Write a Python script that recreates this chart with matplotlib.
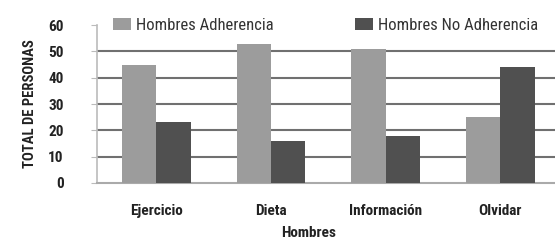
import numpy as np
import matplotlib.pyplot as plt
from matplotlib import font_manager

# datos
categorias = ['Ejercicio', 'Dieta', 'Información', 'Olvidar']
adherencia = [45, 53, 51, 25]
no_adherencia = [23, 16, 18, 44]
yticks = [0, 10, 20, 30, 40, 50, 60]

# buscar una fuente estrecha si hay alguna
names = {f.name for f in font_manager.fontManager.ttflist}
fam = 'DejaVu Sans'
for cand in ['Liberation Sans Narrow', 'Roboto Condensed', 'Open Sans Condensed', 'Roboto']:
    if cand in names:
        fam = cand
        break
plt.rcParams['font.family'] = [fam, 'DejaVu Sans']
plt.rcParams['font.stretch'] = 'condensed'

fig = plt.figure(figsize=(5.55, 2.4), dpi=100)
ax = fig.add_axes([0.175, 0.2375, 0.83, 0.658])

x = np.arange(len(categorias))
w = 0.3
ax.bar(x - w / 2, adherencia, w, color='#9c9c9c', label='Hombres Adherencia', zorder=3)
ax.bar(x + w / 2, no_adherencia, w, color='#505050', label='Hombres No Adherencia', zorder=3)

ax.set_xlim(-0.515, 3.5)
ax.set_ylim(0, 60)
ax.set_yticks(yticks)
ax.set_yticklabels([str(v) for v in yticks], fontsize=11, fontweight='bold', color='#222222')
ax.set_xticks(x)
ax.set_xticklabels(categorias, fontsize=11, fontweight='bold', color='#222222')
ax.tick_params(axis='x', length=0, pad=15)
ax.tick_params(axis='y', length=4, color='#bbbbbb', pad=20)

for v in yticks[1:6]:
    ax.axhline(v, color='#707070', lw=1.5, zorder=1)

for s in ['top', 'right']:
    ax.spines[s].set_visible(False)
ax.spines['left'].set_color('#bbbbbb')
ax.spines['left'].set_linewidth(1.2)
ax.spines['bottom'].set_color('#aaaaaa')
ax.spines['bottom'].set_linewidth(1.5)

ax.set_ylabel('TOTAL DE PERSONAS', fontsize=10.5, fontweight='bold', color='#222222', labelpad=8)
ax.set_xlabel('Hombres', fontsize=11, fontweight='bold', color='#222222')
ax.xaxis.set_label_coords(0.46, -0.27)

leg = ax.legend(loc='upper left', bbox_to_anchor=(0.02, 1.09), ncol=2, frameon=False,
                prop={'size': 12}, handlelength=1.1, handleheight=0.7,
                handletextpad=0.3, columnspacing=4.85, borderaxespad=0)
for t in leg.get_texts():
    t.set_color('#333333')

fig.savefig('out.png', dpi=100)
